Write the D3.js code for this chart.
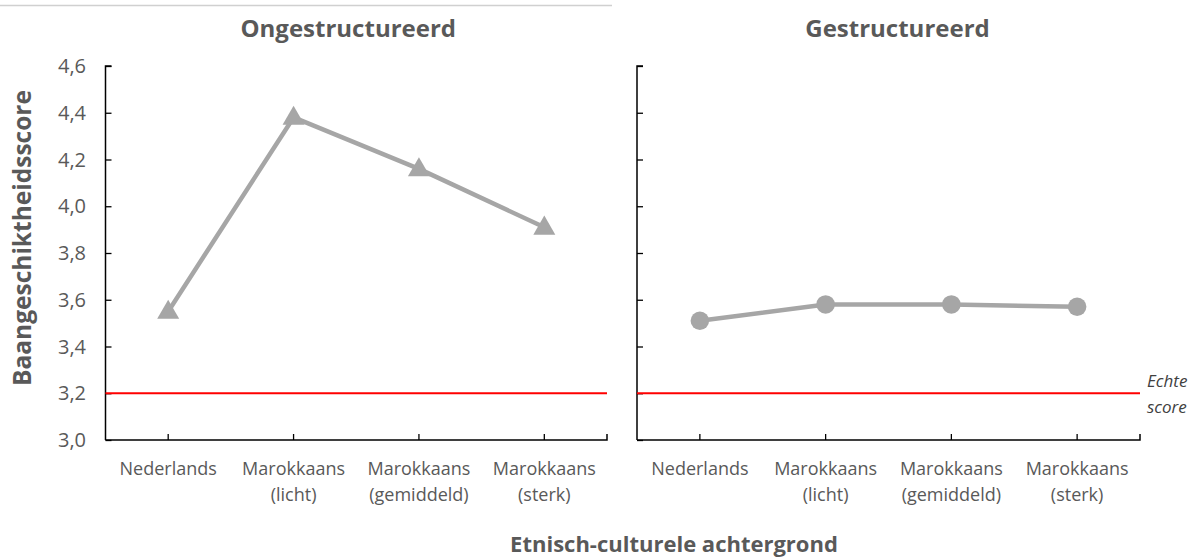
<!DOCTYPE html>
<html><head><meta charset="utf-8">
<script src="https://cdn.jsdelivr.net/npm/d3@7"></script>
<style>body{margin:0;background:#fff;} svg{display:block;}</style>
</head><body>
<svg id="c" width="1193" height="560"></svg>
<script>
const categories = [["Nederlands"], ["Marokkaans", "(licht)"], ["Marokkaans", "(gemiddeld)"], ["Marokkaans", "(sterk)"]];
const catKeys = ["Nederlands", "Marokkaans (licht)", "Marokkaans (gemiddeld)", "Marokkaans (sterk)"];
const panelTitles = ["Ongestructureerd", "Gestructureerd"];
const ongestructureerd = [3.55, 4.38, 4.16, 3.91];
const gestructureerd = [3.51, 3.58, 3.58, 3.57];
const echteScore = 3.2;
const yTicks = [3.0, 3.2, 3.4, 3.6, 3.8, 4.0, 4.2, 4.4, 4.6];

const svg = d3.select("#c");
const font = "'Open Sans', 'DejaVu Sans', sans-serif";
const grey = "#595959";

// top decorative line
svg.append("line").attr("x1", 0).attr("x2", 612).attr("y1", 5.5).attr("y2", 5.5)
  .attr("stroke", "#d0d0d0").attr("stroke-width", 1.5);

const y = d3.scaleLinear().domain([3.0, 4.6]).range([440, 66]);

const panels = [
  {x0: 105.5, x1: 607, values: ongestructureerd, marker: "triangle", showY: true, tOff: -8},
  {x0: 637, x1: 1140, values: gestructureerd, marker: "circle", showY: false, tOff: 9}
];

panels.forEach((p, i) => {
  const x = d3.scaleBand().domain(catKeys).range([p.x0, p.x1]);
  const g = svg.append("g");

  // title
  g.append("text").attr("x", (p.x0 + p.x1) / 2 + p.tOff).attr("y", 37)
    .attr("text-anchor", "middle").attr("font-family", font).attr("font-weight", "bold")
    .attr("font-size", 24).attr("fill", grey).text(panelTitles[i]);

  // y axis
  const yAxis = d3.axisRight(y).tickValues(yTicks).tickSize(6).tickFormat("");
  const ya = g.append("g").attr("transform", `translate(${p.x0},0)`).call(yAxis);
  ya.select(".domain").attr("stroke", "#000").attr("stroke-width", 1.5).attr("d", `M6,66H0V440`);
  ya.selectAll(".tick line").attr("stroke", "#000").attr("stroke-width", 1.3);

  if (p.showY) {
    g.selectAll(".ylab").data(yTicks).join("text")
      .attr("x", 86).attr("y", d => y(d) + 7).attr("text-anchor", "end")
      .attr("font-family", font).attr("font-size", 20).attr("fill", grey)
      .text(d => d3.format(".1f")(d).replace(".", ","));
  }

  // red reference line
  g.append("line").attr("x1", p.x0).attr("x2", p.x1)
    .attr("y1", y(echteScore)).attr("y2", y(echteScore))
    .attr("stroke", "#ff0000").attr("stroke-width", 2);

  // x axis
  const xAxis = d3.axisTop(x).tickSize(6).tickFormat("");
  const xa = g.append("g").attr("transform", `translate(0,440)`).call(xAxis);
  xa.select(".domain").attr("stroke", "#000").attr("stroke-width", 1.5).attr("d", `M${p.x0},0H${p.x1}V-6`);
  xa.selectAll(".tick line").attr("stroke", "#000").attr("stroke-width", 1.3);

  // category labels
  const cx = d => x(d) + x.bandwidth() / 2;
  catKeys.forEach((k, j) => {
    const t = g.append("text").attr("text-anchor", "middle").attr("font-family", font)
      .attr("font-size", 18).attr("fill", grey);
    categories[j].forEach((line, li) => {
      t.append("tspan").attr("x", cx(k)).attr("y", 475 + li * 26).text(line);
    });
  });

  // data line
  const data = catKeys.map((k, j) => ({k, v: p.values[j]}));
  const line = d3.line().x(d => cx(d.k)).y(d => y(d.v));
  g.append("path").datum(data).attr("d", line).attr("fill", "none")
    .attr("stroke", "#a6a6a6").attr("stroke-width", 4.5).attr("stroke-linejoin", "round");

  const sym = d3.symbol().type(p.marker === "triangle" ? d3.symbolTriangle : d3.symbolCircle)
    .size(p.marker === "triangle" ? 210 : 270);
  g.selectAll(".m").data(data).join("path")
    .attr("transform", d => `translate(${cx(d.k)},${y(d.v) + (p.marker === "triangle" ? 1 : 0)})`)
    .attr("d", sym).attr("fill", "#a6a6a6");
});

// y axis title
svg.append("text").attr("transform", "translate(31,238) rotate(-90)")
  .attr("text-anchor", "middle").attr("font-family", font).attr("font-weight", "bold")
  .attr("font-size", 24.5).attr("fill", grey).text("Baangeschiktheidsscore");

// x axis title
svg.append("text").attr("x", 674).attr("y", 552)
  .attr("text-anchor", "middle").attr("font-family", font).attr("font-weight", "bold")
  .attr("font-size", 22).attr("fill", grey).text("Etnisch-culturele achtergrond");

// Echte score
const es = svg.append("text").attr("font-family", font).attr("font-style", "italic")
  .attr("font-size", 17).attr("fill", "#404040");
es.append("tspan").attr("x", 1147).attr("y", 387).text("Echte");
es.append("tspan").attr("x", 1147).attr("y", 413).text("score");
</script>
</body></html>
